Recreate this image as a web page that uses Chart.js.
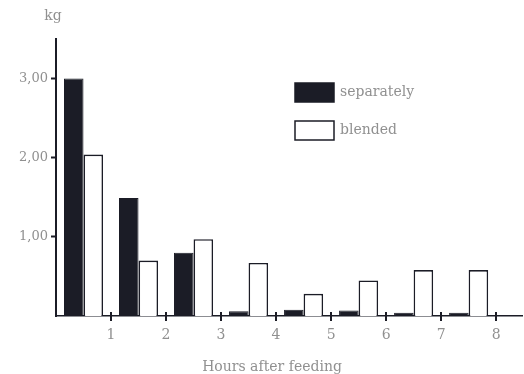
<!DOCTYPE html>
<html>
<head>
<meta charset="utf-8">
<script src="https://cdn.jsdelivr.net/npm/chart.js@4.4.1/dist/chart.umd.min.js"></script>
<style>
  html, body { margin: 0; padding: 0; background: #fff; }
  #wrap { width: 524px; height: 374px; position: relative; }
</style>
</head>
<body>
<div id="wrap"><canvas id="c" width="524" height="374"></canvas></div>
<script>
// Hour slots after feeding: each bar pair sits between two hour ticks
const slotCenters = [0.5, 1.5, 2.5, 3.5, 4.5, 5.5, 6.5, 7.5];
const hourTicks = [1, 2, 3, 4, 5, 6, 7, 8];
const separately = [3.00, 1.49, 0.80, 0.06, 0.08, 0.07, 0.04, 0.04];
const blended = [2.04, 0.70, 0.97, 0.67, 0.28, 0.45, 0.58, 0.58];
const yTicks = [1, 2, 3];
const yTickLabels = ['1,00', '2,00', '3,00'];
const seriesNames = ['separately', 'blended'];

const INK = '#1b1c26';
const GREY = '#909090';
const FONT = 'DejaVu Serif';

const toPoints = vals => vals.map((v, i) => ({ x: slotCenters[i], y: v }));

// Short tick marks that cross the x axis line
const crossTicks = {
  id: 'crossTicks',
  afterDatasetsDraw(chart) {
    const { ctx, scales: { x, y } } = chart;
    const base = y.getPixelForValue(0);
    ctx.save();
    ctx.strokeStyle = INK;
    ctx.lineWidth = 2;
    hourTicks.forEach(h => {
      const px = Math.round(x.getPixelForValue(h));
      ctx.beginPath();
      ctx.moveTo(px, base - 4);
      ctx.lineTo(px, base + 5);
      ctx.stroke();
    });
    ctx.restore();
  }
};

// Legend boxes and axis titles
const annotations = {
  id: 'annotations',
  afterDraw(chart) {
    const { ctx, scales: { y } } = chart;
    ctx.save();
    const boxes = [
      { top: 83, fill: INK, label: seriesNames[0] },
      { top: 121, fill: '#ffffff', label: seriesNames[1] }
    ];
    boxes.forEach(b => {
      ctx.fillStyle = b.fill;
      ctx.fillRect(295, b.top, 39, 19);
      ctx.strokeStyle = INK;
      ctx.lineWidth = 1.5;
      ctx.strokeRect(295, b.top, 39, 19);
      ctx.fillStyle = GREY;
      ctx.font = '14px "' + FONT + '"';
      ctx.textAlign = 'left';
      ctx.textBaseline = 'middle';
      ctx.fillText(b.label, 340, b.top + 9.5);
    });
    ctx.font = '14px "' + FONT + '"';
    ctx.textAlign = 'center';
    ctx.textBaseline = 'middle';
    ctx.fillText('kg', y.right - 3, 16);
    ctx.fillText('Hours after feeding', 272, 367);
    ctx.restore();
  }
};

new Chart(document.getElementById('c'), {
  type: 'bar',
  data: {
    datasets: [
      {
        label: seriesNames[0],
        data: toPoints(separately),
        backgroundColor: INK,
        borderColor: INK,
        borderWidth: 1
      },
      {
        label: seriesNames[1],
        data: toPoints(blended),
        backgroundColor: '#ffffff',
        borderColor: INK,
        borderWidth: 1.6
      }
    ]
  },
  options: {
    responsive: false,
    animation: false,
    events: [],
    layout: { padding: { top: 39, right: 2, left: 0, bottom: 0 } },
    datasets: { bar: { categoryPercentage: 0.71, barPercentage: 1 } },
    plugins: { legend: { display: false }, tooltip: { enabled: false } },
    scales: {
      x: {
        type: 'linear',
        min: 0,
        max: 8.47,
        offset: false,
        afterBuildTicks: s => { s.ticks = hourTicks.map(v => ({ value: v })); },
        afterFit: s => { s.height = 58; },
        grid: { display: true, offset: false, drawOnChartArea: false, drawTicks: true, tickLength: 5, tickColor: 'rgba(0,0,0,0)' },
        border: { display: true, color: INK, width: 1.6 },
        ticks: {
          color: GREY,
          font: { family: FONT, size: 14 },
          padding: 6,
          maxRotation: 0,
          callback: v => String(v)
        }
      },
      y: {
        min: 0,
        max: 3.5,
        afterBuildTicks: s => { s.ticks = yTicks.map(v => ({ value: v })); },
        afterFit: s => { s.width = 56; },
        grid: { display: true, drawOnChartArea: false, drawTicks: true, tickLength: 5, tickColor: INK, tickWidth: 2 },
        border: { display: true, color: INK, width: 2 },
        ticks: {
          color: GREY,
          font: { family: FONT, size: 13 },
          padding: 3,
          callback: v => yTickLabels[yTicks.indexOf(v)]
        }
      }
    }
  },
  plugins: [crossTicks, annotations]
});
</script>
</body>
</html>
